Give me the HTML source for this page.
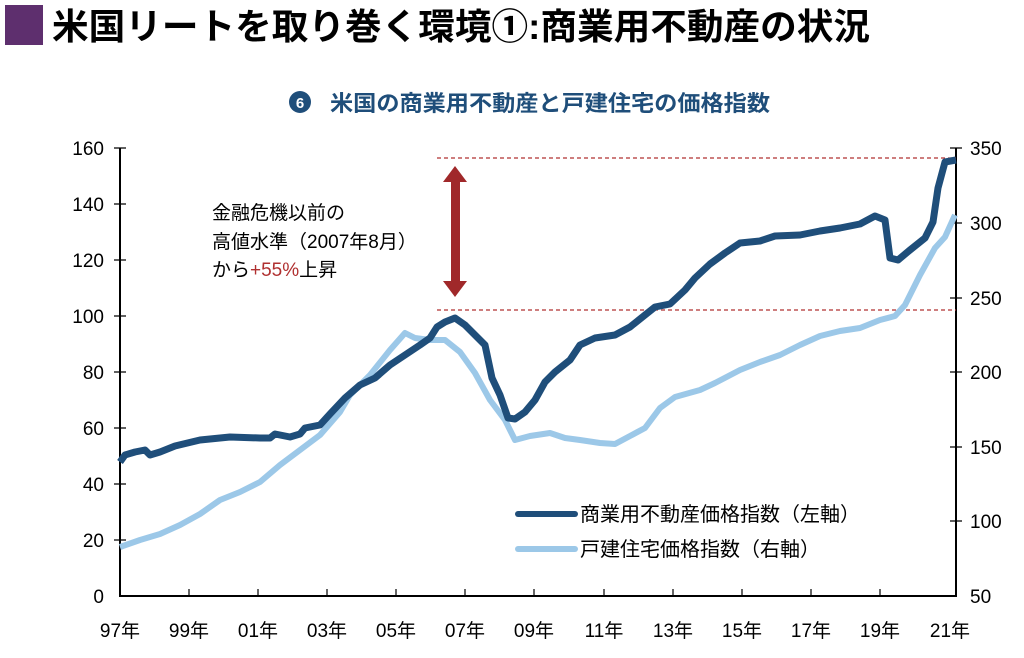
<!DOCTYPE html>
<html><head><meta charset="utf-8"><style>
body{margin:0;background:#fff;}
svg text{font-family:"Liberation Sans","Noto Sans CJK JP",sans-serif;}
</style></head><body>
<svg width="1024" height="653" viewBox="0 0 1024 653" xmlns="http://www.w3.org/2000/svg">
<rect x="5" y="5" width="38" height="40" fill="#5e2f6e"/>
<text x="52" y="39" font-size="36" font-weight="bold" fill="#000" textLength="818" lengthAdjust="spacingAndGlyphs">米国リートを取り巻く環境①:商業用不動産の状況</text>
<circle cx="300" cy="102" r="11" fill="#1f4e7a"/>
<text x="300" y="108" font-size="15" font-weight="bold" fill="#fff" text-anchor="middle">6</text>
<text x="330" y="111" font-size="22" font-weight="bold" fill="#1f4e7a" textLength="440" lengthAdjust="spacingAndGlyphs">米国の商業用不動産と戸建住宅の価格指数</text>
<g stroke="#000" stroke-width="2" fill="none">
<polyline points="120,148 120,596 956,596 956,148"/>
</g>
<g stroke="#000" stroke-width="1.2">
<path d="M114,148H126M114,204H126M114,260H126M114,316H126M114,372H126M114,428H126M114,484H126M114,540H126"/>
<path d="M950,148H962M950,223H962M950,298H962M950,372H962M950,447H962M950,521H962"/>
<path d="M189,596V589M258,596V589M327,596V589M396,596V589M465,596V589M534,596V589M604,596V589M673,596V589M742,596V589M811,596V589M880,596V589"/>
</g>
<g font-size="19" fill="#000" text-anchor="end">
<text x="104" y="155">160</text><text x="104" y="211">140</text><text x="104" y="267">120</text><text x="104" y="323">100</text>
<text x="104" y="379">80</text><text x="104" y="435">60</text><text x="104" y="491">40</text><text x="104" y="547">20</text><text x="104" y="603">0</text>
</g>
<g font-size="19" fill="#000">
<text x="970" y="155">350</text><text x="970" y="230">300</text><text x="970" y="305">250</text><text x="970" y="379">200</text>
<text x="970" y="454">150</text><text x="970" y="528">100</text><text x="970" y="603">50</text>
</g>
<g font-size="19" fill="#000" text-anchor="middle">
<text x="120" y="637">97年</text><text x="189" y="637">99年</text><text x="258" y="637">01年</text><text x="327" y="637">03年</text>
<text x="396" y="637">05年</text><text x="465" y="637">07年</text><text x="534" y="637">09年</text><text x="604" y="637">11年</text>
<text x="673" y="637">13年</text><text x="742" y="637">15年</text><text x="811" y="637">17年</text><text x="880" y="637">19年</text><text x="950" y="637">21年</text>
</g>
<g stroke="#b03030" stroke-width="1.3" stroke-dasharray="4,3">
<path d="M437,158H956M437,310H956"/>
</g>
<g fill="#a0282a">
<rect x="451" y="178" width="9" height="108"/>
<polygon points="455,166 443,182 467,182"/>
<polygon points="455,297 443,281 467,281"/>
</g>
<g font-size="19" fill="#000">
<text x="212" y="219">金融危機以前の</text>
<text x="212" y="248">高値水準（2007年8月）</text>
<text x="212" y="276">から<tspan fill="#b03030">+55%</tspan>上昇</text>
</g>
<polyline fill="none" stroke="#9cc8e8" stroke-width="6" stroke-linejoin="round" points="120,547 140,540 160,534 180,525 200,514 220,500 240,492 260,482 280,465 300,450 320,435 340,412 350,395 370,375 390,350 405,333 415,338 430,340 445,340 460,352 475,373 490,400 505,420 515,440 530,436 550,433 565,438 580,440 600,443 615,444 630,436 645,428 660,408 675,397 700,390 715,383 740,370 760,362 780,355 800,345 820,336 840,331 860,328 880,320 895,316 905,305 920,275 935,248 945,237 955,215"/>
<polyline fill="none" stroke="#1f4e7a" stroke-width="7" stroke-linejoin="round" points="120,462 125,455 135,452 145,450 150,455 160,452 175,446 200,440 230,437 260,438 270,438 275,434 290,437 300,434 305,428 320,425 330,414 345,398 360,385 375,378 390,365 405,355 420,345 430,338 437,327 445,322 455,318 465,325 475,335 485,345 492,378 500,395 508,418 515,419 525,412 535,400 545,382 555,372 570,360 580,345 595,338 615,335 630,327 645,315 655,307 670,304 685,290 695,278 710,264 725,253 740,243 760,241 775,236 800,235 820,231 840,228 860,224 875,216 885,220 890,258 898,260 910,250 925,238 933,222 938,188 945,162 956,160"/>
<line x1="518" y1="514" x2="575" y2="514" stroke="#1f4e7a" stroke-width="6" stroke-linecap="round"/>
<line x1="518" y1="549" x2="575" y2="549" stroke="#9cc8e8" stroke-width="6" stroke-linecap="round"/>
<g font-size="20" fill="#000">
<text x="580" y="521">商業用不動産価格指数（左軸）</text>
<text x="580" y="556">戸建住宅価格指数（右軸）</text>
</g>
</svg>
</body></html>
